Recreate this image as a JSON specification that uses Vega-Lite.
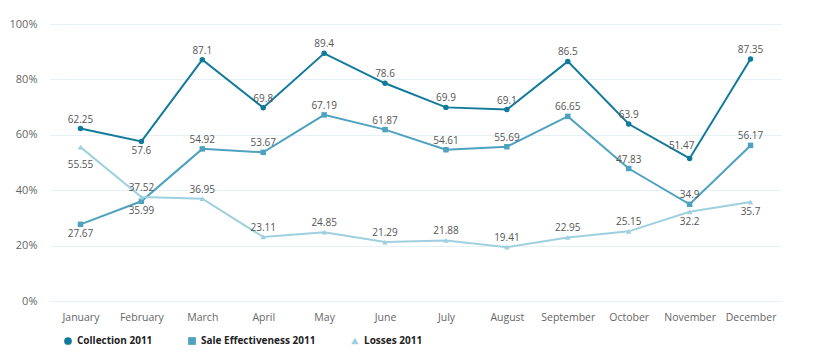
{
  "$schema": "https://vega.github.io/schema/vega-lite/v6.json",
  "width": 731,
  "height": 277,
  "autosize": {"type": "none"},
  "padding": {"left": 50, "top": 24, "right": 57, "bottom": 54},
  "background": "white",
  "config": {"view": {"stroke": null}, "font": "Open Sans",
    "legend": {"title": null, "orient": "none", "legendX": 13, "legendY": 312, "direction": "horizontal", "labelFontWeight": "bold", "labelFontSize": 10, "labelColor": "#222222", "symbolSize": 60, "columnPadding": 34, "labelOffset": 4, "symbolStrokeWidth": 0}
  },
  "data": {
    "values": [
      {"month": "January", "series": "Collection 2011", "value": 62.25},
      {"month": "February", "series": "Collection 2011", "value": 57.6},
      {"month": "March", "series": "Collection 2011", "value": 87.1},
      {"month": "April", "series": "Collection 2011", "value": 69.8},
      {"month": "May", "series": "Collection 2011", "value": 89.4},
      {"month": "June", "series": "Collection 2011", "value": 78.6},
      {"month": "July", "series": "Collection 2011", "value": 69.9},
      {"month": "August", "series": "Collection 2011", "value": 69.1},
      {"month": "September", "series": "Collection 2011", "value": 86.5},
      {"month": "October", "series": "Collection 2011", "value": 63.9},
      {"month": "November", "series": "Collection 2011", "value": 51.47},
      {"month": "December", "series": "Collection 2011", "value": 87.35},
      {"month": "January", "series": "Sale Effectiveness 2011", "value": 27.67},
      {"month": "February", "series": "Sale Effectiveness 2011", "value": 35.99},
      {"month": "March", "series": "Sale Effectiveness 2011", "value": 54.92},
      {"month": "April", "series": "Sale Effectiveness 2011", "value": 53.67},
      {"month": "May", "series": "Sale Effectiveness 2011", "value": 67.19},
      {"month": "June", "series": "Sale Effectiveness 2011", "value": 61.87},
      {"month": "July", "series": "Sale Effectiveness 2011", "value": 54.61},
      {"month": "August", "series": "Sale Effectiveness 2011", "value": 55.69},
      {"month": "September", "series": "Sale Effectiveness 2011", "value": 66.65},
      {"month": "October", "series": "Sale Effectiveness 2011", "value": 47.83},
      {"month": "November", "series": "Sale Effectiveness 2011", "value": 34.9},
      {"month": "December", "series": "Sale Effectiveness 2011", "value": 56.17},
      {"month": "January", "series": "Losses 2011", "value": 55.55},
      {"month": "February", "series": "Losses 2011", "value": 37.52},
      {"month": "March", "series": "Losses 2011", "value": 36.95},
      {"month": "April", "series": "Losses 2011", "value": 23.11},
      {"month": "May", "series": "Losses 2011", "value": 24.85},
      {"month": "June", "series": "Losses 2011", "value": 21.29},
      {"month": "July", "series": "Losses 2011", "value": 21.88},
      {"month": "August", "series": "Losses 2011", "value": 19.41},
      {"month": "September", "series": "Losses 2011", "value": 22.95},
      {"month": "October", "series": "Losses 2011", "value": 25.15},
      {"month": "November", "series": "Losses 2011", "value": 32.2},
      {"month": "December", "series": "Losses 2011", "value": 35.7}
    ]
  },
  "encoding": {
    "x": {
      "field": "month",
      "type": "ordinal",
      "sort": ["January", "February", "March", "April", "May", "June", "July", "August", "September", "October", "November", "December"],
      "scale": {"type": "point", "padding": 0.5},
      "axis": {"title": null, "labelAngle": 0, "ticks": false, "domain": false, "grid": false, "labelPadding": 11, "labelColor": "#666666", "labelFontSize": 10.5}
    },
    "y": {
      "field": "value",
      "type": "quantitative",
      "scale": {"domain": [0, 100]},
      "axis": {"title": null, "values": [0, 20, 40, 60, 80, 100], "labelExpr": "datum.value + '%'", "ticks": false, "domain": false, "gridColor": "#e4f2f7", "gridWidth": 1, "labelPadding": 13, "labelColor": "#666666", "labelFontSize": 11}
    },
    "color": {"field": "series", "type": "nominal", "scale": {"domain": ["Collection 2011", "Sale Effectiveness 2011", "Losses 2011"], "range": ["#117a9b", "#4ea2bf", "#9fd0df"]}}
  },
  "layer": [
    {
      "mark": {"type": "line", "strokeWidth": 2}
    },
    {
      "mark": {"type": "point", "filled": true, "opacity": 1, "size": 30},
      "encoding": {
        "shape": {"field": "series", "type": "nominal", "scale": {"domain": ["Collection 2011", "Sale Effectiveness 2011", "Losses 2011"], "range": ["circle", "square", "triangle-up"]}}
      }
    },
    {
      "transform": [{"filter": "!(datum.series == 'Collection 2011' && (datum.month == 'February' || datum.month == 'November')) && !(datum.series == 'Sale Effectiveness 2011' && (datum.month == 'January' || datum.month == 'February')) && !(datum.series == 'Losses 2011' && (datum.month == 'January' || datum.month == 'November' || datum.month == 'December'))"}],
      "mark": {"type": "text", "baseline": "middle", "dy": -9, "fontSize": 10},
      "encoding": {"text": {"field": "value", "type": "quantitative"}, "color": {"value": "#555555"}}
    },
    {
      "transform": [{"filter": "datum.series == 'Collection 2011' && datum.month == 'November'"}],
      "mark": {"type": "text", "baseline": "middle", "dy": -12, "dx": -8, "fontSize": 10},
      "encoding": {"text": {"field": "value", "type": "quantitative"}, "color": {"value": "#555555"}}
    },
    {
      "transform": [{"filter": "(datum.series == 'Collection 2011' && datum.month == 'February') || (datum.series == 'Sale Effectiveness 2011' && (datum.month == 'January' || datum.month == 'February')) || (datum.series == 'Losses 2011' && (datum.month == 'November' || datum.month == 'December'))"}],
      "mark": {"type": "text", "baseline": "middle", "dy": 10, "fontSize": 10},
      "encoding": {"text": {"field": "value", "type": "quantitative"}, "color": {"value": "#555555"}}
    },
    {
      "transform": [{"filter": "datum.series == 'Losses 2011' && datum.month == 'January'"}],
      "mark": {"type": "text", "baseline": "middle", "dy": 18, "fontSize": 10},
      "encoding": {"text": {"field": "value", "type": "quantitative"}, "color": {"value": "#555555"}}
    }
  ]
}
